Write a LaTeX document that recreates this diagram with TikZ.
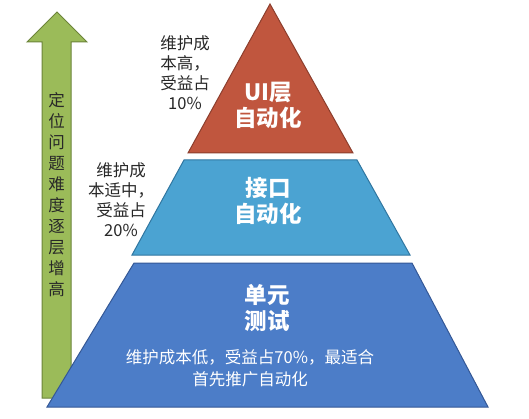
\documentclass[tikz,border=0pt]{standalone}
\usepackage{fontspec}
\setmainfont{Noto Sans CJK SC}
\usetikzlibrary{positioning}
\definecolor{brick}{RGB}{192,86,62}
\definecolor{brickline}{RGB}{140,62,45}
\definecolor{skyblue}{RGB}{75,163,210}
\definecolor{skyline}{RGB}{48,118,160}
\definecolor{royal}{RGB}{76,125,200}
\definecolor{royalline}{RGB}{52,88,150}
\definecolor{olive}{RGB}{155,187,89}
\definecolor{oliveline}{RGB}{108,132,58}
\definecolor{note}{RGB}{40,40,40}
\tikzset{
  layer/.style={line width=1pt,line join=miter},
  title/.style={text=white,align=center,font=\fontsize{22.5}{26}\selectfont\bfseries},
  desc/.style={text=white,align=center,font=\fontsize{16.5}{22}\selectfont},
  side/.style={text=note,align=center,font=\fontsize{16.5}{20}\selectfont},
  vert/.style={text=note,align=center,font=\fontsize{16.5}{21}\selectfont}
}

\begin{document}
\begin{tikzpicture}[x=1pt,y=-1pt]
  \useasboundingbox (0,0) rectangle (529,419);
  % arrow
  \filldraw[layer,fill=olive,draw=oliveline] (57,12) -- (87,42) -- (71,42) -- (71,398)
    -- (42,398) -- (42,42) -- (27,42) -- cycle;
  \node[vert] (hard) at (56.5,195) {定\\位\\问\\题\\难\\度\\逐\\层\\增\\高};
  % pyramid
  \filldraw[layer,fill=brick,draw=brickline] (270,4) -- (353,153) -- (188,153) -- cycle;
  \filldraw[layer,fill=skyblue,draw=skyline] (184,160) -- (357,160) -- (410,255) -- (132,255) -- cycle;
  \filldraw[layer,fill=royal,draw=royalline] (134,263) -- (412,263) -- (488,407) -- (47,407) -- cycle;
  \node[title] (ui) at (268,105) {UI层\\自动化};
  \node[title] (api) at (268,201) {接口\\自动化};
  \node[title] (unit) at (267,308) {单元\\测试};
  \node[desc] (unitnote) at (250,368) {维护成本低，受益占70\%，最适合\\首先推广自动化};
  % notes
  \node[side] (uinote) at (185,73) {维护成\\本高，\\受益占\\10\%};
  \node[side] (apinote) at (121,200) {维护成\\本适中，\\受益占\\20\%};
\end{tikzpicture}
\end{document}
